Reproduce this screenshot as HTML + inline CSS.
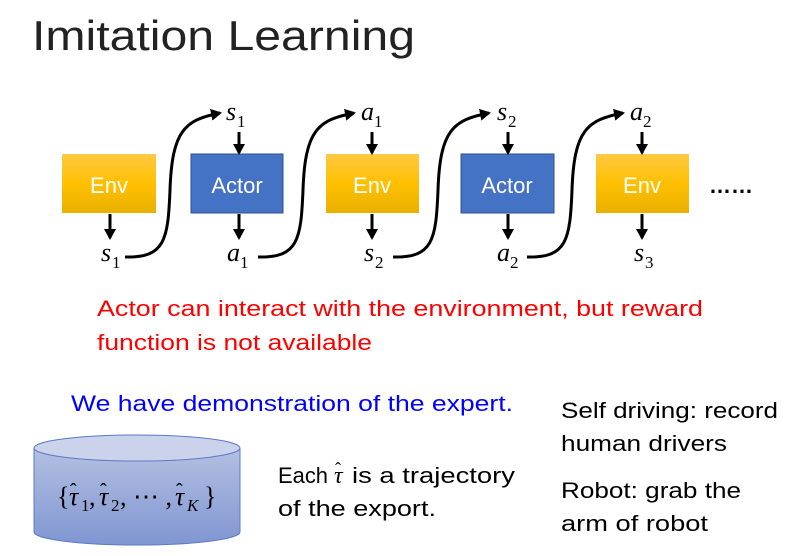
<!DOCTYPE html>
<html><head><style>
body{margin:0;background:#fff;width:797px;height:556px;overflow:hidden}
svg{display:block}
.t{font-family:"Liberation Sans",sans-serif}
.m{font-family:"Liberation Serif",serif;font-style:italic}
</style></head><body>
<svg width="797" height="556" viewBox="0 0 797 556">
<defs>
<linearGradient id="y" x1="0" y1="0" x2="0" y2="1"><stop offset="0" stop-color="#ffc843"/><stop offset="0.5" stop-color="#ffc000"/><stop offset="1" stop-color="#e8b000"/></linearGradient>
<linearGradient id="c" x1="0" y1="0" x2="0" y2="1"><stop offset="0" stop-color="#b4c0e2"/><stop offset="1" stop-color="#8096d2"/></linearGradient>
<marker id="ar" markerWidth="12" markerHeight="12" refX="9" refY="6" orient="auto" markerUnits="userSpaceOnUse"><path d="M0,0L11,6L0,12z" fill="#000"/></marker>
</defs>
<text x="32" y="50" class="t" font-size="42" fill="#222" textLength="383" lengthAdjust="spacingAndGlyphs">Imitation Learning</text>

<g class="t" font-size="22" fill="#fff" text-anchor="middle">
<rect x="62" y="154" width="94" height="59" fill="url(#y)"/><text x="109" y="193">Env</text>
<rect x="191" y="154" width="92" height="59" fill="#4472c4" stroke="#2f528f"/><text x="237" y="193">Actor</text>
<rect x="326" y="154" width="93" height="59" fill="url(#y)"/><text x="372" y="193">Env</text>
<rect x="461" y="154" width="93" height="59" fill="#4472c4" stroke="#2f528f"/><text x="507" y="193">Actor</text>
<rect x="596" y="154" width="93" height="59" fill="url(#y)"/><text x="642" y="193">Env</text>
</g>
<text x="709" y="193" class="t" font-size="22" font-weight="bold" fill="#000" textLength="44" lengthAdjust="spacingAndGlyphs">……</text>

<g stroke="#000" stroke-width="3" fill="none" marker-end="url(#ar)">
<line x1="110" y1="214" x2="110" y2="238"/>
<line x1="239" y1="132" x2="239" y2="153"/>
<line x1="239" y1="214" x2="239" y2="238"/>
<line x1="372" y1="132" x2="372" y2="153"/>
<line x1="372" y1="214" x2="372" y2="238"/>
<line x1="508" y1="132" x2="508" y2="153"/>
<line x1="508" y1="214" x2="508" y2="238"/>
<line x1="642" y1="132" x2="642" y2="153"/>
<line x1="642" y1="214" x2="642" y2="238"/>
<path d="M125,257 C165,258 168,240 170,190 C172,130 185,120 220,113"/>
<path d="M258,257 C298,258 301,240 303,190 C305,130 318,120 354,113"/>
<path d="M393,257 C433,258 436,240 438,190 C440,130 453,120 489,113"/>
<path d="M527,257 C567,258 570,240 572,190 C574,130 587,120 623,113"/>
</g>
<g class="m" font-size="26" fill="#000">
<text x="226" y="120">s</text><text x="237" y="127" font-style="normal" font-size="17">1</text>
<text x="361" y="120">a</text><text x="374" y="127" font-style="normal" font-size="17">1</text>
<text x="497" y="120">s</text><text x="508" y="127" font-style="normal" font-size="17">2</text>
<text x="630" y="120">a</text><text x="643" y="127" font-style="normal" font-size="17">2</text>
<text x="101" y="261">s</text><text x="112" y="268" font-style="normal" font-size="17">1</text>
<text x="227" y="261">a</text><text x="240" y="268" font-style="normal" font-size="17">1</text>
<text x="364" y="261">s</text><text x="375" y="268" font-style="normal" font-size="17">2</text>
<text x="497" y="261">a</text><text x="510" y="268" font-style="normal" font-size="17">2</text>
<text x="634" y="261">s</text><text x="645" y="268" font-style="normal" font-size="17">3</text>
</g>

<g class="t" font-size="22" fill="#ff0000">
<text x="97" y="316" textLength="606" lengthAdjust="spacingAndGlyphs">Actor can interact with the environment, but reward</text>
<text x="97" y="350" textLength="275" lengthAdjust="spacingAndGlyphs">function is not available</text>
</g>
<text x="71" y="411" class="t" font-size="22" fill="#0000ff" textLength="442" lengthAdjust="spacingAndGlyphs">We have demonstration of the expert.</text>

<path d="M34,448 L34,532 A103,13 0 0 0 240,532 L240,448" fill="url(#c)" stroke="#5b7bc4"/>
<ellipse cx="137" cy="448" rx="103" ry="13" fill="#cbd3ec" stroke="#5b7bc4"/>
<g font-family="Liberation Serif,serif" font-size="26" fill="#000">
<text x="57" y="505">{</text>
<text x="69" y="505" font-style="italic">τ</text><text x="70" y="497" font-size="20">ˆ</text><text x="81" y="511" font-size="17">1</text><text x="89" y="505">,</text>
<text x="99" y="505" font-style="italic">τ</text><text x="100" y="497" font-size="20">ˆ</text><text x="111" y="511" font-size="17">2</text><text x="120" y="505">, ⋯ ,</text>
<text x="175" y="505" font-style="italic">τ</text><text x="176" y="497" font-size="20">ˆ</text><text x="187" y="511" font-size="17" font-style="italic">K</text><text x="204" y="505">}</text>
</g>

<g class="t" font-size="22" fill="#000">
<text x="278" y="483" textLength="50" lengthAdjust="spacingAndGlyphs">Each</text>
<text x="334" y="483" font-family="Liberation Serif,serif" font-style="italic" font-size="24">τ</text><text x="335" y="475" font-family="Liberation Serif,serif" font-size="18">ˆ</text>
<text x="352" y="483" textLength="163" lengthAdjust="spacingAndGlyphs">is a trajectory</text>
<text x="278" y="516" textLength="158" lengthAdjust="spacingAndGlyphs">of the export.</text>
<text x="561" y="418" textLength="217" lengthAdjust="spacingAndGlyphs">Self driving: record</text>
<text x="561" y="451" textLength="166" lengthAdjust="spacingAndGlyphs">human drivers</text>
<text x="561" y="498" textLength="180" lengthAdjust="spacingAndGlyphs">Robot: grab the</text>
<text x="561" y="531" textLength="147" lengthAdjust="spacingAndGlyphs">arm of robot</text>
</g>
</svg>
</body></html>
